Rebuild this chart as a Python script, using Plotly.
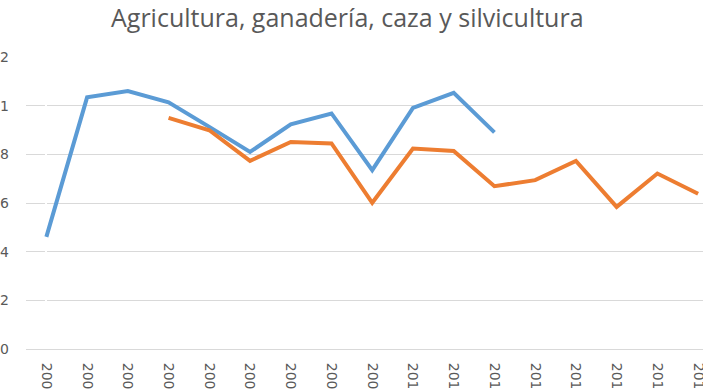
import plotly.graph_objects as go

years = list(range(2001, 2018))
x_labels = [str(y)[:3] for y in years]
serie_azul = [0.461, 1.034, 1.060, 1.014, 0.913, 0.810, 0.923, 0.968, 0.735, 0.991, 1.053, 0.890,
              None, None, None, None, None]
serie_naranja = [None, None, None, 0.950, 0.899, 0.773, 0.851, 0.845, 0.601, 0.824, 0.814, 0.669,
                 0.694, 0.773, 0.584, 0.721, 0.638]
y_vals = [0, 0.2, 0.4, 0.6, 0.8, 1.0, 1.2]
y_labels = ["0", "2", "4", "6", "8", "1", "2"]

xi = list(range(len(years)))
fig = go.Figure()
fig.add_trace(go.Scatter(x=xi, y=serie_azul, mode="lines", line=dict(color="#5B9BD5", width=4),
                         connectgaps=False, showlegend=False))
fig.add_trace(go.Scatter(x=xi, y=serie_naranja, mode="lines", line=dict(color="#ED7D31", width=4),
                         connectgaps=False, showlegend=False))

tickfont = dict(family="DejaVu Sans", size=14, color="#595959")
fig.update_layout(
    width=703, height=390,
    margin=dict(l=26, r=0, t=57, b=41, autoexpand=False),
    paper_bgcolor="white", plot_bgcolor="white",
    title=dict(text="Agricultura, ganadería, caza y silvicultura", x=0.494, xanchor="center",
               y=0.952, yanchor="middle",
               font=dict(family="Open Sans", size=25, color="#595959")),
    xaxis=dict(range=[-0.5, 16.12], tickmode="array", tickvals=xi, ticktext=x_labels,
               tickangle=90, tickfont=tickfont, showgrid=False, showline=True,
               linecolor="#D9D9D9", linewidth=1, ticks="", automargin=False,
               ticklabelstandoff=10, ticklabeloverflow="allow"),
    yaxis=dict(range=[0, 1.2], tickmode="array", tickvals=y_vals, ticktext=y_labels,
               tickfont=tickfont, showgrid=True, gridcolor="#D9D9D9", gridwidth=1,
               zeroline=False, showline=False, ticks="", automargin=False,
               ticklabelstandoff=16),
)
fig.write_html("out.html", config={"displayModeBar": False},
               post_script="document.body.style.margin='0';document.body.style.overflow='hidden';")
